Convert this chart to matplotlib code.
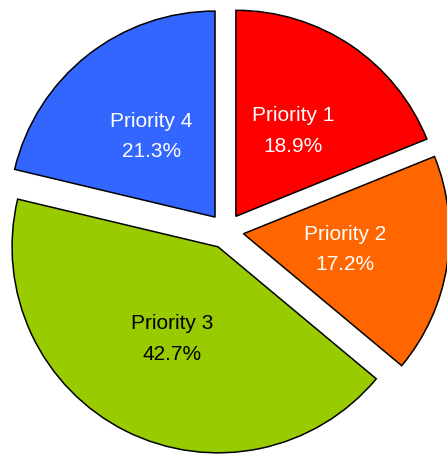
import matplotlib.pyplot as plt

labels = ["Priority 1", "Priority 2", "Priority 3", "Priority 4"]
shares = [18.9, 17.2, 42.7, 21.3]
colors = ["#ff0000", "#ff6600", "#99cc00", "#3366ff"]
text_colors = ["white", "white", "black", "white"]

plt.rcParams["font.family"] = ["Liberation Sans", "DejaVu Sans"]

W, H = 447, 455
cx, cy, r = 226, 231, 206  # centre and radius in pixels

fig = plt.figure(figsize=(W / 100, H / 100), dpi=100)
ax = fig.add_axes([0, 0, 1, 1])

wedges, texts = ax.pie(
    shares,
    labels=[f"{l}\n{s:.1f}%" for l, s in zip(labels, shares)],
    colors=colors,
    startangle=90,
    counterclock=False,
    explode=[0.086] * len(shares),
    labeldistance=0.5,
    wedgeprops=dict(edgecolor="black", linewidth=1.1),
    textprops=dict(fontsize=15),
)
for t, c in zip(texts, text_colors):
    t.set_color(c)
    t.set_ha("center")
    t.set_va("center")
    t.set_linespacing(1.75)

ax.set_xlim(-cx / r, (W - cx) / r)
ax.set_ylim(-(H - cy) / r, cy / r)
ax.set_aspect("auto")
ax.axis("off")

fig.savefig("out.png", dpi=100)
